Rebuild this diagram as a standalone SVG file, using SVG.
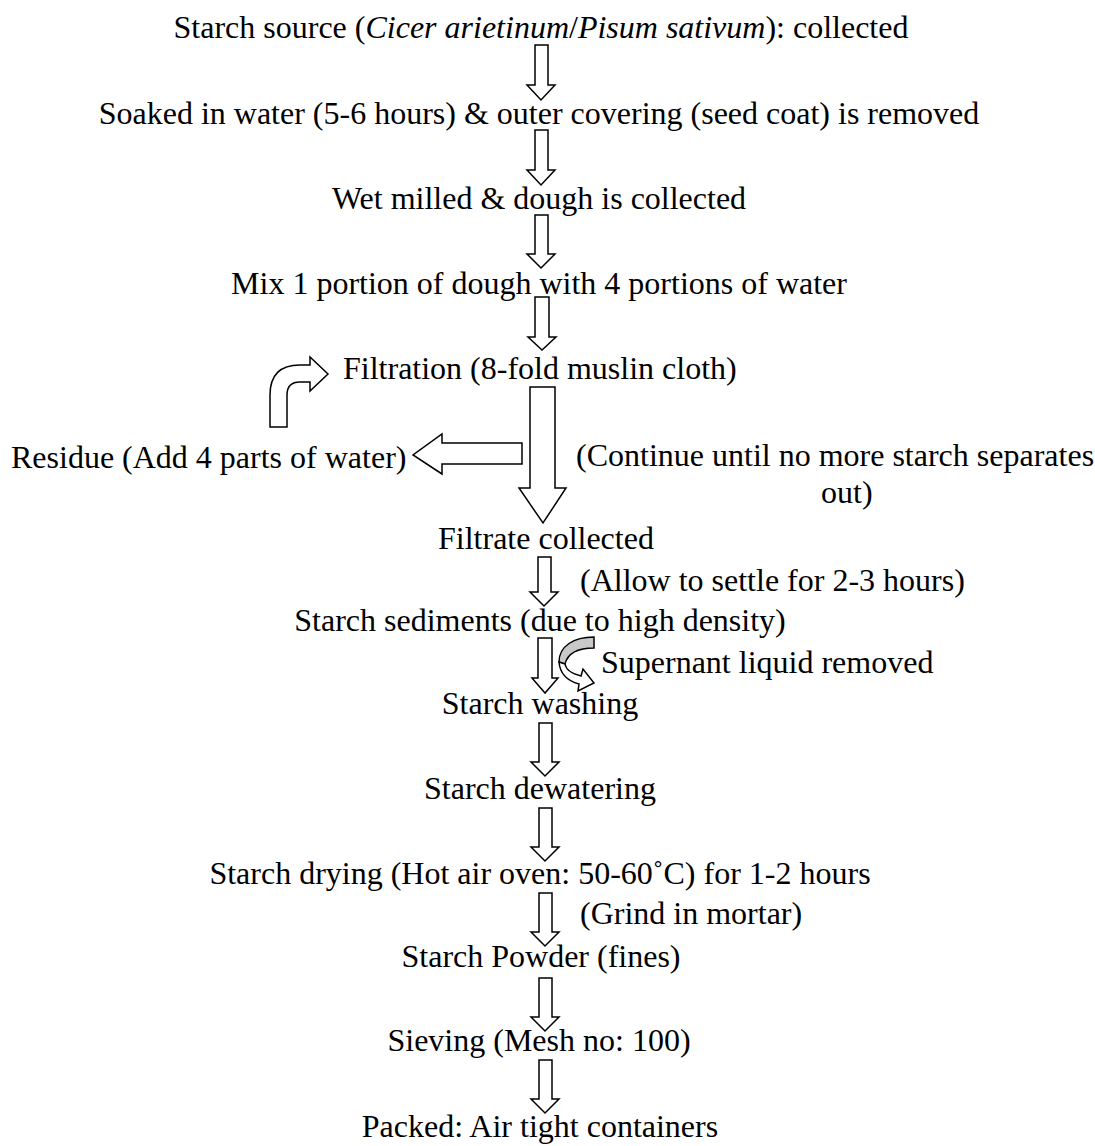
<svg xmlns="http://www.w3.org/2000/svg" width="1095" height="1146" viewBox="0 0 1095 1146">
<style>
text{font-family:"Liberation Serif","Times New Roman",serif;font-size:32px;fill:#000}
.c{text-anchor:middle}
.arr{fill:#fff;stroke:#000;stroke-width:1.5;stroke-linejoin:miter}
.gray{fill:#c8c8c8;stroke:#000;stroke-width:1.5}
</style>
<rect width="1095" height="1146" fill="#fff"/>
<g id="connectors">
<path class="arr" d="M535,45 H548 V85 H555 L541,100 L527,85 H535 Z"/>
<path class="arr" d="M535,130 H548 V170 H555 L541,185 L527,170 H535 Z"/>
<path class="arr" d="M535,215 H548 V254 H555 L541,268 L527,254 H535 Z"/>
<path class="arr" d="M535,297 H549 V337 H556 L542,350 L528,337 H535 Z"/>
<path class="arr" d="M530,387 H555 V488 H566 L543,523 L519,488 H530 Z"/>
<path class="arr" d="M522,443 V464 H442 V474 L413,455 L442,434 V443 Z"/>
<path class="arr" d="M270,427 V395 Q270,365 300,365 H310 V357 L328,374 L310,391 V382 H300 Q287,382 287,395 V427 Z"/>
<path class="arr" d="M538,557 H551 V592 H558 L544,606 L530,592 H538 Z"/>
<path class="arr" d="M538,638 H552 V678 H558 L545,693 L532,678 H538 Z"/>
<path class="gray" d="M594,637 V648 C580,648 568,652 565,664 L559,662 C559,646 574,637 594,637 Z"/>
<path class="arr" d="M559,662 C560,674 568,681 579,684 L578,691 L594,683 L583,669 L581,676 C573,674 566,670 565,664 Z"/>
<path class="arr" d="M539,723 H552 V762 H559 L545,776 L531,762 H539 Z"/>
<path class="arr" d="M539,808 H552 V847 H559 L545,861 L531,847 H539 Z"/>
<path class="arr" d="M539,893 H552 V932 H559 L545,946 L531,932 H539 Z"/>
<path class="arr" d="M539,978 H552 V1017 H559 L545,1031 L531,1017 H539 Z"/>
<path class="arr" d="M539,1060 H552 V1099 H559 L545,1113 L531,1099 H539 Z"/>
</g>
<g id="n1"><text class="c" x="541" y="38">Starch source (<tspan font-style="italic">Cicer arietinum</tspan>/<tspan font-style="italic">Pisum sativum</tspan>): collected</text></g>
<g id="n2"><text class="c" x="539" y="124">Soaked in water (5-6 hours) &amp; outer covering (seed coat) is removed</text></g>
<g id="n3"><text class="c" x="539" y="209">Wet milled &amp; dough is collected</text></g>
<g id="n4"><text class="c" x="539" y="294">Mix 1 portion of dough with 4 portions of water</text></g>
<g id="n5"><text x="343" y="379">Filtration (8-fold muslin cloth)</text></g>
<g id="n6"><text x="11" y="468">Residue (Add 4 parts of water)</text></g>
<g id="n7"><text x="576" y="466">(Continue until no more starch separates</text><text x="821" y="503">out)</text></g>
<g id="n8"><text x="438" y="549">Filtrate collected</text></g>
<g id="n9"><text x="580" y="591">(Allow to settle for 2-3 hours)</text></g>
<g id="n10"><text class="c" x="540" y="631">Starch sediments (due to high density)</text></g>
<g id="n11"><text x="601" y="673">Supernant liquid removed</text></g>
<g id="n12"><text class="c" x="540" y="714">Starch washing</text></g>
<g id="n13"><text class="c" x="540" y="799">Starch dewatering</text></g>
<g id="n14"><text class="c" x="540" y="884">Starch drying (Hot air oven: 50-60˚C) for 1-2 hours</text></g>
<g id="n15"><text x="580" y="924">(Grind in mortar)</text></g>
<g id="n16"><text class="c" x="541" y="967">Starch Powder (fines)</text></g>
<g id="n17"><text class="c" x="539" y="1051">Sieving (Mesh no: 100)</text></g>
<g id="n18"><text class="c" x="540" y="1137">Packed: Air tight containers</text></g>
</svg>
